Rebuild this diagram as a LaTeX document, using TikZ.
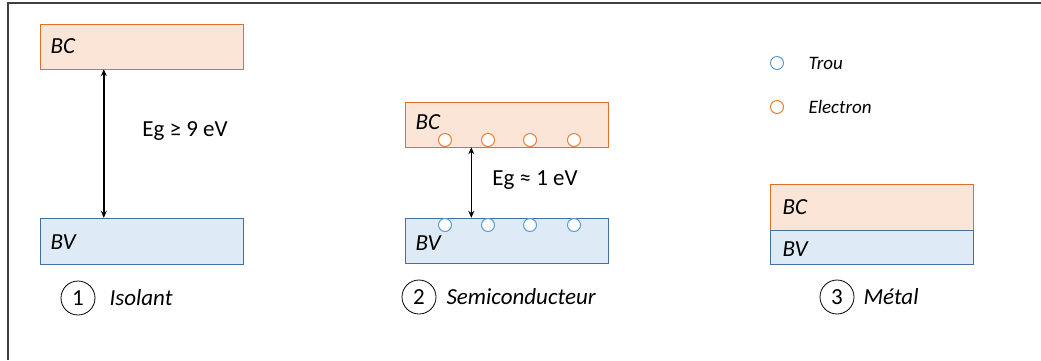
\documentclass[tikz,border=0pt]{standalone}
\usepackage{fontspec}
\setmainfont{Carlito}
\usetikzlibrary{arrows.meta, positioning}

\definecolor{bcfill}{HTML}{FBE5D6}
\definecolor{bcline}{HTML}{E0702A}
\definecolor{bvfill}{HTML}{DEEBF7}
\definecolor{bvline}{HTML}{41719C}
\definecolor{holeline}{HTML}{5B9BD5}
\definecolor{elecline}{HTML}{ED7D31}

\begin{document}
\begin{tikzpicture}[
    x=1pt, y=-1pt,
    every node/.style={font=\fontsize{23}{27}\selectfont},
    bandc/.style={draw=bcline, fill=bcfill, minimum width=203pt, inner sep=0pt},
    bandv/.style={draw=bvline, fill=bvfill, minimum width=203pt, inner sep=0pt},
    boxtext/.style={anchor=west, font=\fontsize{23}{27}\selectfont\itshape},
    legtext/.style={anchor=west, font=\fontsize{19}{23}\selectfont\itshape},
    elec/.style={circle, draw=elecline, fill=white, line width=1pt, minimum size=13pt, inner sep=0pt},
    hole/.style={circle, draw=holeline, fill=white, line width=1pt, minimum size=13pt, inner sep=0pt},
    numcirc/.style={circle, draw, line width=0.8pt, minimum size=34pt, inner sep=0pt},
    gap/.style={line width=1.5pt, {Stealth[length=7pt,width=6pt]}-{Stealth[length=7pt,width=6pt]}}
  ]
  \useasboundingbox (0,0) rectangle (1041,360);
  % frame
  \draw[line width=1.5pt, black!75] (8,360) -- (8,3) -- (1041,3);

  % --- (1) Isolant ---
  \node[bandc, minimum height=45pt] (bc1) at (141.5,46.5) {};
  \node[bandv, minimum height=46pt] (bv1) at (141.5,241) {};
  \node[boxtext] at (47,46.5) {BC};
  \node[boxtext] at (47,242) {BV};
  \draw[gap] ([xshift=64pt]bc1.south west) -- ([xshift=64pt]bv1.north west);
  \node (eg1) at (185,131) {Eg ≥ 9 eV};
  \node[numcirc] (n1) at (78,298) {1};
  \node[boxtext] (t1) at (106,298) {Isolant};

  % --- (2) Semiconducteur ---
  \node[bandc, minimum height=45pt] (bc2) at (507,124.5) {};
  \node[bandv, minimum height=45pt] (bv2) at (507,240.5) {};
  \node[boxtext] at (412,122) {BC};
  \node[boxtext] at (412,243) {BV};
  \foreach \i/\x in {1/445, 2/488, 3/530, 4/574} {
    \node[elec] (e\i) at (\x,140) {};
    \node[hole] (h\i) at (\x,225) {};
  }
  \draw[gap] ([xshift=66pt]bc2.south west) -- ([xshift=66pt]bv2.north west);
  \node (eg2) at (535,180) {Eg ≈ 1 eV};
  \node[numcirc] (n2) at (419,297) {2};
  \node[boxtext] (t2) at (443,297) {Semiconducteur};

  % --- (3) Metal ---
  \node[bandc, minimum height=46pt] (bc3) at (872,207) {};
  \node[bandv, minimum height=34pt] (bv3) at (872,247) {};
  \node[boxtext] at (779,207) {BC};
  \node[boxtext] at (779,249) {BV};
  \node[numcirc] (n3) at (837,297) {3};
  \node[boxtext] (t3) at (860,297) {Métal};

  % legend
  \node[hole] (lh) at (777,63) {};
  \node[legtext] (lht) at (805,63) {Trou};
  \node[elec] (le) at (777,107) {};
  \node[legtext] (let) at (805,107) {Electron};
\end{tikzpicture}
\end{document}
